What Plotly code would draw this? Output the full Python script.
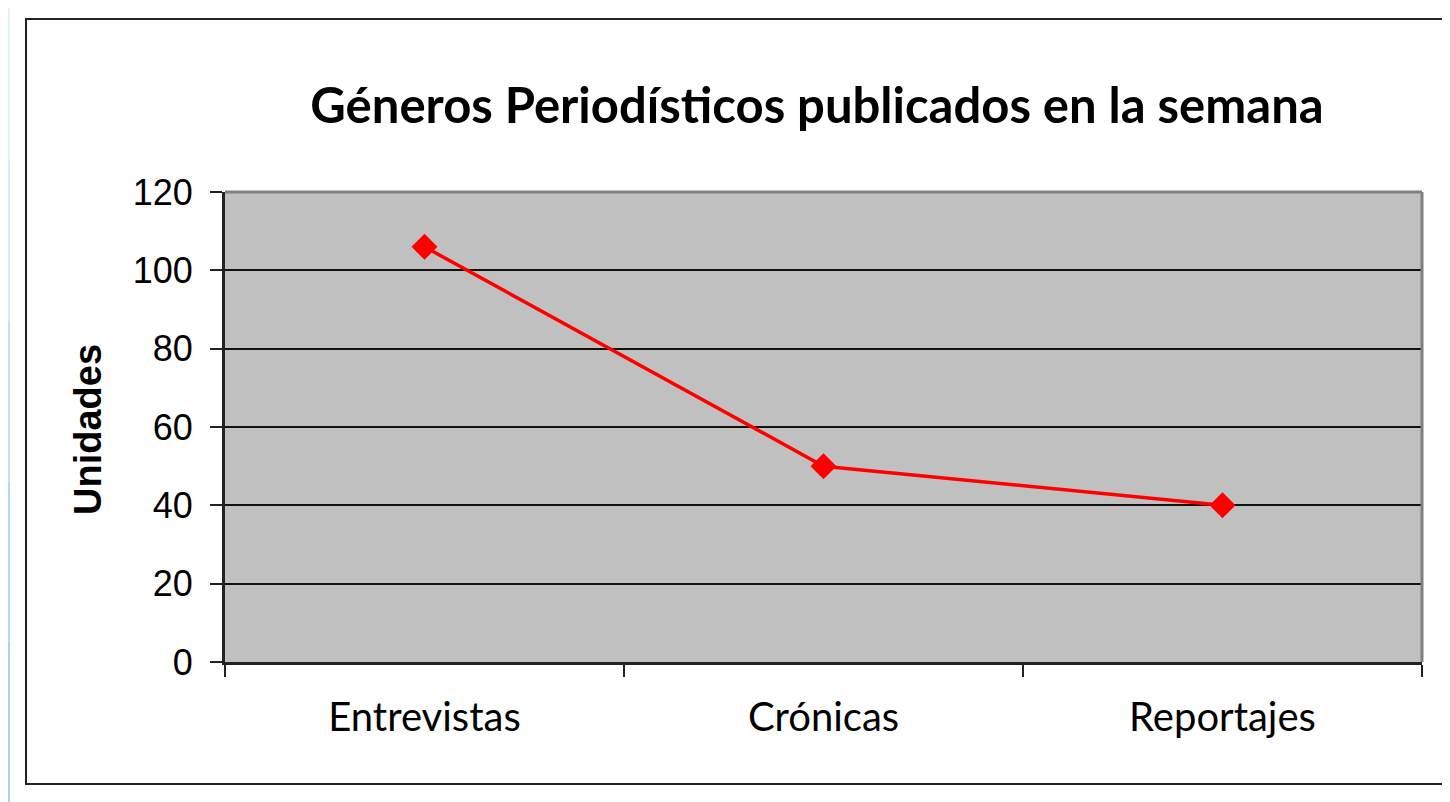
import plotly.graph_objects as go

categories = ["Entrevistas", "Crónicas", "Reportajes"]
values = [106, 50, 40]
y_ticks = [0, 20, 40, 60, 80, 100, 120]

title_text = "Géneros Periodísticos publicados en la semana"
y_title = "Unidades"

OFF = 8  # default page body margin
W, H = 1450 - OFF, 802 - OFF
L, R, T, B = 225 - OFF, 1422 - OFF, 192 - OFF, 662 - OFF


def px(x):
    return (x - OFF - L) / (R - L)


def py(y):
    return (B - (y - OFF)) / (B - T)


fig = go.Figure()
fig.add_trace(go.Scatter(
    x=categories, y=values, mode="lines+markers",
    line=dict(color="#FF0000", width=3.5),
    marker=dict(symbol="diamond", size=20, color="#FF0000"),
    showlegend=False, cliponaxis=False,
))

shapes = []
strip_cols = ["#e4f2f6", "#d6ebf2", "#c6e3ec", "#b6dbe6", "#a8d4e0"]
n = len(strip_cols)
for i, c in enumerate(strip_cols):
    y0 = i * 802 / n
    y1 = (i + 1) * 802 / n
    shapes.append(dict(type="rect", xref="paper", yref="paper",
                       x0=px(0), x1=px(10), y0=py(y1), y1=py(y0),
                       fillcolor=c, line=dict(width=0), layer="below"))
shapes.append(dict(type="rect", xref="paper", yref="paper",
                   x0=px(26), x1=px(1448), y0=py(784), y1=py(19),
                   line=dict(color="#222222", width=2), fillcolor="rgba(0,0,0,0)", layer="below"))
shapes.append(dict(type="line", xref="paper", yref="paper",
                   x0=0, x1=1, y0=1, y1=1, line=dict(color="#808080", width=3), layer="above"))
shapes.append(dict(type="line", xref="paper", yref="paper",
                   x0=1, x1=1, y0=0, y1=1, line=dict(color="#808080", width=3), layer="above"))

fig.update_layout(
    width=W, height=H,
    margin=dict(l=L, r=W - R, t=T, b=H - B),
    paper_bgcolor="white",
    plot_bgcolor="#C0C0C0",
    shapes=shapes,
    title=dict(text=title_text, x=px(817), xref="paper", xanchor="center",
               y=1 - (106 - OFF) / H, yref="container", yanchor="middle",
               font=dict(family="Lato", size=49, color="black", weight="bold")),
    annotations=[dict(text=y_title, xref="paper", yref="paper",
                      x=px(88), y=py(430), textangle=-90, showarrow=False,
                      xanchor="center", yanchor="middle",
                      font=dict(family="Liberation Sans", size=38, color="black", weight="bold"))],
)

fig.update_xaxes(
    type="category", range=[-0.5, 2.5], tickson="boundaries",
    ticks="outside", ticklen=12, tickwidth=2, tickcolor="#222222",
    showline=True, linecolor="#222222", linewidth=3,
    showgrid=False, zeroline=False,
    tickfont=dict(family="Lato", size=40, color="black"),
    ticklabelstandoff=18,
)
fig.update_yaxes(
    range=[0, 120], tickvals=y_ticks, ticktext=[str(v) for v in y_ticks],
    ticks="outside", ticklen=12, tickwidth=2, tickcolor="#222222",
    showline=True, linecolor="#222222", linewidth=3,
    showgrid=True, gridcolor="#111111", gridwidth=1.5, zeroline=False,
    tickfont=dict(family="Liberation Sans", size=36, color="black"),
    ticklabelstandoff=10,
)

fig.write_html("out.html")
